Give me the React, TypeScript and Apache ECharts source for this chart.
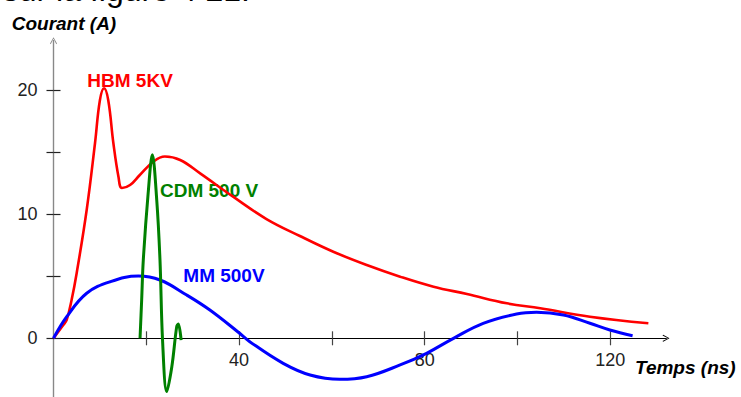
import { useEffect, useRef } from "react";
import * as echarts from "echarts";

// Values: [time (ns), current (A)]
const hbmPoints: [number, number][] = [
  [0, 0], [2.1, 1.07], [2.85, 1.48], [3.9, 3.09], [5.0, 5.27], [7.15, 10.35],
  [8.95, 15.75], [10.0, 19.2], [10.9, 20.16], [11.8, 19.2], [12.9, 15.75],
  [14.0, 13.03], [14.75, 12.12], [16.5, 12.36], [18.6, 13.17], [21.5, 14.24],
  [24.0, 14.66], [27.3, 14.38], [31.6, 13.3], [38.7, 11.42], [45.9, 9.62],
  [53.1, 8.25], [60.3, 6.98], [67.5, 5.91], [74.7, 4.97], [81.9, 4.16],
  [89.1, 3.57], [97.7, 2.82], [104.9, 2.42], [115.6, 1.74], [128.2, 1.21],
];

const cdmPoints: [number, number][] = [
  [18.65, 0], [19.0, 3.09], [19.35, 6.3], [20.4, 11.7], [21.3, 14.8],
  [22.25, 11.15], [22.95, 6.3], [23.5, -0.14], [24.4, -4.3], [25.5, -2.29],
  [26.55, 0.94], [26.9, 1.15], [27.5, -0.14],
];

const mmPoints: [number, number][] = [
  [0, 0], [2.85, 1.74], [7.15, 3.63], [12.2, 4.56], [18.3, 5.02], [22.95, 4.7],
  [28.7, 3.49], [33.7, 2.28], [39.7, 0.53], [42.3, -0.27], [49.5, -2.02],
  [55.3, -2.96], [61.7, -3.31], [67.5, -3.1], [74.7, -2.15], [80.4, -1.21],
  [86.2, 0], [92.6, 1.21], [99.8, 1.96], [104.1, 2.1], [109.9, 1.88],
  [115.6, 1.21], [119.9, 0.67], [124.8, 0.21],
];

const seriesNames = ["HBM 5KV", "CDM 500 V", "MM 500V"];
const seriesColors = ["#ff0000", "#008000", "#0000ff"];
const xTicks = [20, 40, 60, 80, 100, 120];
const xLabels = [40, 80, 120];
const yTicks = [0, 5, 10, 15, 20];
const yLabels = [0, 10, 20];
const xAxisTitle = "Temps (ns)";
const yAxisTitle = "Courant (A)";
const headerText = "sur la figure 4 21.";

const FONT = '"Liberation Sans", Arial, sans-serif';
const ARROW = "path://M5,0 L10,9 L9,10 L5,2.2 L1,10 L0,9 Z";

const Y_MIN = -5;
const Y_MAX = 24;
const GRID_TOP = 40.7;
const GRID_BOTTOM = -3.3;
const CHART_H = 397;

export default function App() {
  const ref = useRef<HTMLDivElement>(null);

  useEffect(() => {
    if (!ref.current) return;
    const chart = echarts.init(ref.current, undefined, { renderer: "svg" });

    // distance from the grid's bottom edge up to the value 0 of the y axis
    const gridH = CHART_H - GRID_TOP - GRID_BOTTOM;
    const zeroOffset = -((0 - Y_MIN) / (Y_MAX - Y_MIN)) * gridH;

    const xBase = {
      type: "value" as const,
      min: 0,
      max: 132,
      position: "bottom" as const,
      offset: zeroOffset,
      splitLine: { show: false },
    };
    const yBase = {
      type: "value" as const,
      min: Y_MIN,
      max: Y_MAX,
      position: "left" as const,
      splitLine: { show: false },
    };

    const labelText = (text: string, left: number, y: number, color: string, italic = false) => ({
      type: "text",
      x: left,
      y,
      silent: true,
      style: {
        text,
        fill: color,
        fontFamily: FONT,
        fontSize: 19,
        fontWeight: "bold",
        fontStyle: italic ? "italic" : "normal",
        align: "left",
        verticalAlign: "middle",
      },
    });

    chart.setOption({
      animation: false,
      backgroundColor: "#ffffff",
      grid: {
        left: 53.5,
        right: 75,
        top: GRID_TOP,
        bottom: GRID_BOTTOM,
        containLabel: false,
        outerBoundsMode: "none",
      },
      xAxis: [
        {
          ...xBase,
          axisLine: {
            onZero: false,
            symbol: ["none", ARROW],
            symbolSize: [8, 7],
            lineStyle: { color: "#000000", width: 1.2 },
          },
          axisTick: {
            inside: true,
            length: 7,
            customValues: xTicks,
            lineStyle: { color: "#444444", width: 1.2 },
          },
          axisLabel: {
            customValues: xLabels,
            margin: 13,
            color: "#222222",
            fontSize: 18,
            fontFamily: FONT,
          },
        },
        {
          ...xBase,
          axisLine: {
            onZero: false,
            lineStyle: { color: "#000000", width: 1.2 },
          },
          axisTick: {
            inside: false,
            length: 7,
            customValues: xTicks,
            lineStyle: { color: "#444444", width: 1.2 },
          },
          axisLabel: { show: false },
        },
      ],
      yAxis: [
        {
          ...yBase,
          axisLine: {
            onZero: false,
            symbol: ["none", ARROW],
            symbolSize: [8, 7],
            lineStyle: { color: "#888888", width: 1.2 },
          },
          axisTick: {
            inside: true,
            length: 7,
            customValues: yTicks,
            lineStyle: { color: "#222222", width: 1.2 },
          },
          axisLabel: {
            customValues: yLabels,
            margin: 16,
            color: "#222222",
            fontSize: 18,
            fontFamily: FONT,
          },
        },
        {
          ...yBase,
          axisLine: {
            onZero: false,
            lineStyle: { color: "#888888", width: 1.2 },
          },
          axisTick: {
            inside: false,
            length: 7,
            customValues: yTicks,
            lineStyle: { color: "#222222", width: 1.2 },
          },
          axisLabel: { show: false },
        },
      ],
      series: [
        {
          name: seriesNames[0],
          type: "line",
          data: hbmPoints,
          smooth: 0.4,
          symbol: "none",
          lineStyle: { color: seriesColors[0], width: 2.6 },
          z: 2,
        },
        {
          name: seriesNames[2],
          type: "line",
          data: mmPoints,
          smooth: 0.4,
          symbol: "none",
          lineStyle: { color: seriesColors[2], width: 3 },
          z: 3,
        },
        {
          name: seriesNames[1],
          type: "line",
          data: cdmPoints,
          smooth: 0.35,
          symbol: "none",
          lineStyle: { color: seriesColors[1], width: 3 },
          z: 4,
        },
      ],
      graphic: [
        {
          type: "text",
          x: 250,
          y: -10,
          silent: true,
          style: {
            text: headerText,
            fill: "#000000",
            fontFamily: FONT,
            fontSize: 32,
            align: "right",
            verticalAlign: "middle",
          },
        },
        labelText(yAxisTitle, 11.7, 23.5, "#000000", true),
        labelText(xAxisTitle, 635, 367, "#000000", true),
        labelText(seriesNames[0], 87.3, 80, seriesColors[0]),
        labelText(seriesNames[1], 160, 190.7, seriesColors[1]),
        labelText(seriesNames[2], 183.3, 275, seriesColors[2]),
      ],
    });

    return () => chart.dispose();
  }, []);

  return (
    <div
      ref={ref}
      style={{ position: "fixed", left: 0, top: 0, width: 741, height: 397 }}
    />
  );
}
